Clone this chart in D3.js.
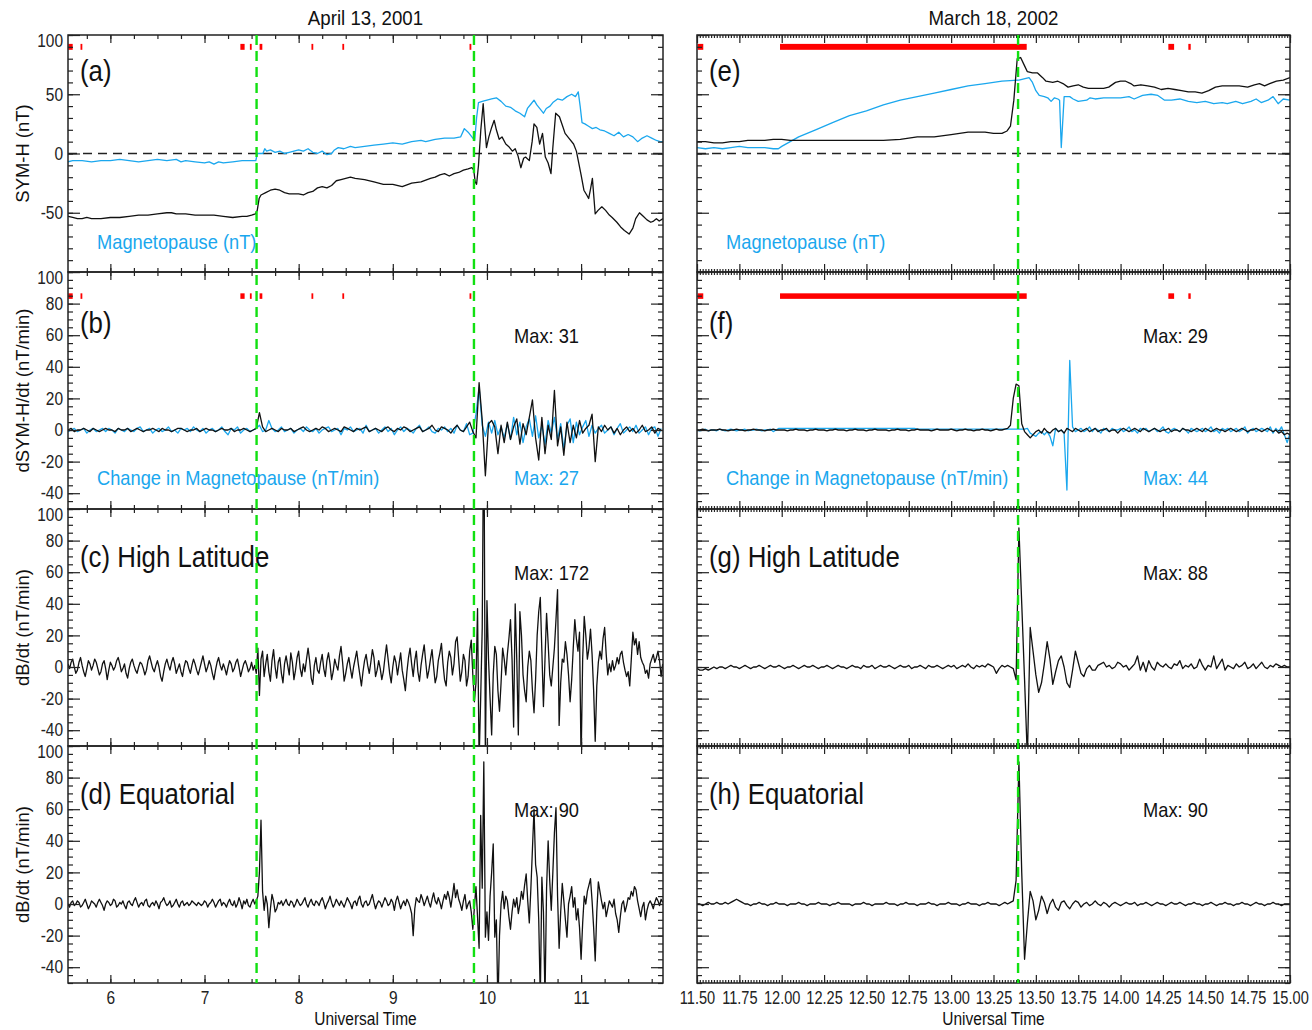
<!DOCTYPE html>
<html lang="en">
<head>
<meta charset="utf-8">
<title>SYM-H and dB/dt, April 13 2001 / March 18 2002</title>
<script src="https://d3js.org/d3.v7.min.js"></script>
<style>
  body { margin: 0; background: #fff; }
</style>
</head>
<body>
<script>

// ---- data -----------------------------------------------------------

// panel titles / labels
var dates = ["April 13, 2001", "March 18, 2002"];
var rowLabels = ["SYM-H (nT)", "dSYM-H/dt (nT/min)", "dB/dt (nT/min)", "dB/dt (nT/min)"];
var panelNames = [["(a)", "(b)", "(c) High Latitude", "(d) Equatorial"],
                  ["(e)", "(f)", "(g) High Latitude", "(h) Equatorial"]];
var maxBlack = [[null, "Max: 31", "Max: 172", "Max: 90"], [null, "Max: 29", "Max: 88", "Max: 90"]];
var maxBlue = [[null, "Max: 27", null, null], [null, "Max: 44", null, null]];
var blueNames = ["Magnetopause (nT)", "Change in Magnetopause (nT/min)"];

// event onsets (UT hours)
var onsetsLeft = [7.553, 9.862];
var onsetsRight = [13.395];

// red flags at top of panels (UT intervals)
var flagsLeft = [[5.553, 5.60], [5.683, 5.693], [7.381, 7.426], [7.482, 7.492], [7.585, 7.614],
                 [8.136, 8.146], [8.464, 8.474], [9.815, 9.825]];
var flagsRight = [[11.504, 11.537], [11.99, 13.446], [14.282, 14.316], [14.40, 14.414]];

// (a) SYM-H and magnetopause, [UT, nT]
var symhLeft = [[5.55,-53],[5.6,-54],[5.65,-55],[5.7,-55],[5.75,-54],[5.8,-55],[5.9,-55],[6.0,-54],[6.1,-54],[6.2,-53],
  [6.3,-52],[6.4,-52],[6.5,-51],[6.6,-50],[6.65,-50],[6.7,-51],[6.8,-51],[6.9,-52],[7.0,-52],[7.1,-52],[7.2,-53],
  [7.3,-54],[7.4,-53],[7.45,-53],[7.5,-52],[7.54,-51],[7.56,-48],[7.58,-38],[7.6,-35],[7.65,-33],[7.7,-31],[7.75,-30],
  [7.8,-31],[7.85,-33],[7.9,-34],[7.95,-34],[8.0,-34],[8.05,-35],[8.1,-33],[8.15,-32],[8.2,-29],[8.25,-28],[8.3,-29],
  [8.35,-27],[8.4,-23],[8.45,-22],[8.5,-21],[8.55,-20],[8.6,-21],[8.7,-22],[8.8,-24],[8.9,-26],[9.0,-26],[9.1,-28],
  [9.2,-25],[9.3,-24],[9.4,-21],[9.45,-20],[9.5,-18],[9.55,-17],[9.6,-19],[9.65,-17],[9.7,-16],[9.75,-14],[9.8,-13],
  [9.84,-12],[9.86,-14],[9.875,-24],[9.89,-26],[9.91,-10],[9.935,20],[9.96,42],[9.975,25],[9.995,5],[10.02,14],
  [10.05,22],[10.077,28],[10.1,20],[10.13,12],[10.16,14],[10.2,8],[10.23,6],[10.27,2],[10.3,4],[10.33,-2],[10.36,-12],
  [10.39,-4],[10.41,-3],[10.45,-6],[10.48,10],[10.5,25],[10.53,22],[10.56,8],[10.59,17],[10.62,-3],[10.65,-8],
  [10.68,-17],[10.7,5],[10.73,34],[10.77,31],[10.8,24],[10.83,17],[10.87,13],[10.92,8],[10.95,2],[10.97,-6],[11.0,-18],
  [11.03,-31],[11.06,-35],[11.08,-38],[11.1,-30],[11.12,-21],[11.15,-51],[11.18,-48],[11.22,-45],[11.26,-48],[11.3,-52],
  [11.33,-54],[11.38,-58],[11.42,-62],[11.46,-65],[11.51,-68],[11.55,-63],[11.58,-55],[11.62,-50],[11.66,-53],[11.7,-56],
  [11.74,-58],[11.77,-57],[11.8,-55],[11.83,-57],[11.87,-55]];

var mpLeft = [[5.55,-7],[5.6,-6],[5.7,-6],[5.8,-7],[5.9,-6],[6.0,-6],[6.1,-5],[6.2,-6],[6.3,-7],[6.4,-6],[6.5,-5],
  [6.6,-6],[6.7,-5],[6.75,-7],[6.8,-6],[6.9,-7],[7.0,-8],[7.05,-7],[7.1,-9],[7.15,-7],[7.2,-8],[7.3,-7],[7.4,-6],
  [7.5,-6],[7.545,-6],[7.56,0],[7.62,0],[7.64,4],[7.66,2],[7.7,3],[7.75,1],[7.8,2],[7.85,0],[7.9,1],[7.95,2],[8.0,3],
  [8.05,2],[8.1,4],[8.15,1],[8.2,0],[8.25,2],[8.3,-1],[8.35,0],[8.38,3],[8.42,5],[8.48,4],[8.55,6],[8.6,5],[8.7,6],
  [8.8,7],[8.9,8],[9.0,9],[9.1,8],[9.2,10],[9.3,11],[9.35,10],[9.45,12],[9.55,13],[9.65,13],[9.72,14],[9.76,21],
  [9.8,18],[9.85,13],[9.87,11],[9.89,30],[9.91,43],[9.95,44],[10.0,45],[10.05,46],[10.1,47],[10.15,44],[10.2,40],
  [10.25,39],[10.3,36],[10.35,34],[10.4,31],[10.43,38],[10.47,42],[10.5,45],[10.53,41],[10.56,38],[10.6,34],[10.63,38],
  [10.67,40],[10.7,43],[10.75,46],[10.8,45],[10.85,48],[10.9,50],[10.94,48],[10.97,52],[10.99,40],[11.01,26],[11.04,25],
  [11.08,23],[11.12,21],[11.16,22],[11.2,20],[11.25,19],[11.3,17],[11.35,15],[11.4,18],[11.45,14],[11.5,16],[11.55,14],
  [11.6,10],[11.65,13],[11.7,15],[11.75,13],[11.8,11],[11.84,10],[11.87,10]];

// (b) dSYM-H/dt and change in magnetopause, every 2 min from 05:33 UT
var dsymLeft = [
  0,1,-1,0,0,1,0,-1,1,0,  -1,0,1,0,0,-1,1,0,0,1,  -1,0,1,0,-1,0,0,1,0,-1,  1,0,0,-1,0,1,1,0,-1,0,
  0,1,-1,0,1,0,0,-1,0,1,  0,0,1,-1,0,0,1,0,-1,0,  1,11,2,-1,0,1,0,-1,1,0,  0,1,-1,0,1,2,0,-1,0,1,
  0,2,1,-1,0,1,0,-1,2,1,  0,-1,1,0,1,2,-1,0,1,0,  -1,1,2,0,-1,1,0,2,1,-1,  0,1,2,-1,0,1,3,0,-1,2,
  1,0,-2,1,3,0,-1,2,5,-1,  -5,30,6,-29,4,6,2,-15,3,-8,  5,-6,2,7,-9,4,-3,8,19,-5,  -19,8,-15,3,-6,25,-10,2,-16,5,
  -8,3,-5,6,-2,1,3,10,-20,2,  -1,3,0,2,-2,1,-3,0,2,-1,  1,-2,0,3,-1,0,2,-2,1,0];
var dmpLeft = [
  -1,0,1,-1,0,1,-2,0,1,-1,  0,1,-1,1,0,-2,1,0,-1,1,  0,-1,1,2,-1,0,1,-2,0,1,  -1,0,2,-1,0,-2,1,0,1,-1,
  2,0,-1,1,-2,0,1,-1,0,2,  -1,-3,1,0,2,-2,0,1,-1,0,  1,3,-1,0,6,1,-1,0,2,-1,  0,1,-2,0,1,-1,2,0,-1,1,
  -2,0,1,2,-1,0,1,-3,1,0,  2,-1,0,1,-2,3,-1,0,1,-2,  0,2,-1,1,-3,0,2,-1,1,0,  -2,1,3,-1,0,2,-1,-2,1,0,
  2,-1,1,-2,3,0,-1,4,-3,-2,  10,27,3,-4,5,-2,6,-3,2,-5,  4,-6,8,-3,5,-8,2,7,-4,9,  -5,3,-9,6,-2,8,-6,4,-12,3,
  7,-8,5,-3,2,6,-4,3,-2,1,  3,-2,0,2,-3,1,4,-2,0,2,  -1,3,-2,0,2,-3,1,2,-4,1];

// (c) high latitude dB/dt, every 1 min from 05:33 UT
var dbHighLeft = [
  2,-1,3,5,0,-4,-2,3,6,1,  -3,-6,-1,4,2,-2,1,5,3,-1,  -5,-3,2,4,-1,-8,-2,3,1,-2,  0,4,6,2,-3,-1,2,-4,-7,-1,
  3,5,1,-2,-4,0,3,2,-1,-5,  -2,4,7,3,-1,-3,1,4,0,-6,  -9,-3,2,5,1,-2,3,6,2,-4,  -1,2,-3,-6,0,4,3,-1,-4,1,
  5,2,-2,-5,-1,3,7,2,-3,0,  4,1,-4,-8,-2,3,6,1,-2,2,  -1,-5,0,4,2,-3,-1,3,5,0,  -6,-2,2,4,1,-3,-1,3,-2,1,
  -4,12,-18,5,10,-6,2,8,-3,-9,  4,11,0,-7,3,6,-4,-10,2,7,  1,-5,9,3,-8,-2,6,10,-1,-6,  2,-3,5,12,4,-7,-11,1,6,-2,
  -4,3,8,-1,-6,4,9,2,-8,-3,  5,1,-2,7,13,3,-9,-4,2,6,  -1,-7,0,5,10,2,-5,-12,-3,4,  8,1,-4,3,11,6,-6,-2,4,-1,
  -8,-3,6,14,5,-4,-10,0,7,3,  -5,2,9,-2,-8,-15,-3,6,12,2,  -6,4,10,-3,-9,1,8,14,3,-7,  -2,5,11,0,-10,-6,4,9,15,2,
  -8,-12,3,10,6,-5,2,16,19,5,  -9,-3,8,4,-12,-6,10,17,-5,-22,  -10,37,-60,-20,25,172,-60,42,5,-20,
  -43,-5,13,8,-15,-28,-10,12,5,-5,  8,18,30,5,-38,40,5,-43,35,20,  -5,-15,-22,0,10,4,-15,-29,-8,20,
  35,44,10,-25,5,34,15,-5,-12,0,  12,30,49,-37,-10,5,3,16,8,-5,  -22,-8,12,30,18,10,22,-60,5,32,
  20,5,12,24,8,-15,-47,-12,3,10,  5,18,25,8,-5,2,-3,4,-2,1,  6,2,8,10,3,-2,-6,-3,-12,5,
  22,14,18,8,16,6,3,1,-4,-2,  -7,2,5,8,3,6,10,4,-6,2];

// (d) equatorial dB/dt, every 1 min from 05:33 UT
var dbEqLeft = [
  0,-2,1,2,-1,0,2,1,-2,-1,  1,3,0,-3,-1,2,1,0,-2,1,  3,1,-1,-4,0,2,1,-1,0,3,  2,-2,-1,1,0,2,-1,-3,1,2,
  0,-1,2,4,1,-2,0,1,-1,2,  3,-1,-2,0,1,-1,2,0,-3,1,  2,4,1,-1,0,2,-2,-1,1,3,  0,-2,1,2,-1,0,1,-1,0,2,
  1,0,-1,1,0,-1,0,2,1,-2,  0,1,3,1,-2,0,2,3,-1,1,  0,-2,1,3,0,-1,2,-2,0,4,  1,-3,2,0,3,-1,-2,1,3,0,
  2,5,20,53,8,-4,5,0,-15,-3,  6,2,-5,-3,1,0,2,-1,1,3,  0,-1,2,1,-2,0,3,1,-1,0,  2,4,0,-2,1,3,0,-1,2,1,
  -1,2,4,1,-3,0,2,5,1,-2,  0,3,1,-1,2,0,-2,1,4,2,  0,-3,1,2,-1,3,5,0,-2,1,  2,-1,0,3,6,1,-3,0,2,1,
  -2,1,4,2,-1,0,3,1,-4,2,  5,1,-3,0,2,-1,3,1,-2,-6,  -20,-3,4,2,1,6,3,-1,2,5,  1,-2,3,7,2,0,4,1,-3,2,
  6,3,8,4,-2,5,13,4,9,3,  0,-4,2,6,-3,0,2,-5,-16,-2,  11,-8,-28,56,10,90,-21,-5,-23,5,
  20,38,-21,-10,-65,-20,0,8,-3,5,  2,-8,-16,-5,3,-2,4,-6,0,8,  3,12,19,2,-12,10,35,60,25,17,
  -10,-60,17,-5,-60,10,40,15,-4,20,  45,61,5,-28,-5,13,2,-10,-21,0,  5,11,-2,4,-10,-3,-15,-35,-12,5,
  0,8,12,16,2,-15,-36,-5,14,8,  2,-3,1,-8,-3,2,0,-2,3,-6,  -10,-18,-8,0,2,-5,-1,4,3,8,
  5,11,9,2,-3,-8,-2,1,-10,-4,  0,2,0,-3,1,4,2,-1,3,1];

// (e) SYM-H and magnetopause, [UT, nT]
var symhRight = [[11.5,10],[11.55,10],[11.6,9],[11.65,9],[11.7,10],[11.75,10],[11.8,11],[11.85,11],[11.9,11],
  [11.95,12],[12.0,12],[12.05,11],[12.1,11],[12.2,11],[12.3,11],[12.4,11],[12.5,11],[12.6,11],[12.7,12],[12.75,13],
  [12.8,14],[12.9,14],[13.0,16],[13.05,17],[13.1,18],[13.2,18],[13.25,17],[13.3,17],[13.33,19],[13.35,23],[13.37,45],
  [13.39,80],[13.41,81],[13.43,75],[13.45,69],[13.48,68],[13.51,68],[13.54,64],[13.56,61],[13.6,60],[13.63,61],
  [13.66,59],[13.69,56],[13.72,57],[13.75,58],[13.78,56],[13.81,55],[13.85,55],[13.9,55],[13.93,56],[13.97,60],
  [14.0,61],[14.03,61],[14.06,59],[14.08,57],[14.12,58],[14.16,57],[14.2,56],[14.24,54],[14.28,55],[14.32,54],
  [14.36,53],[14.4,52],[14.44,52],[14.48,51],[14.52,53],[14.56,56],[14.6,57],[14.65,57],[14.7,57],[14.75,56],
  [14.79,58],[14.82,59],[14.85,57],[14.88,59],[14.92,61],[14.96,62],[15.0,64]];

var mpRight = [[11.5,5],[11.55,4],[11.6,5],[11.65,4],[11.7,5],[11.75,6],[11.8,5],[11.85,5],[11.9,5],[11.95,4],
  [11.98,4],[12.0,6],[12.05,10],[12.1,14],[12.2,20],[12.3,26],[12.4,32],[12.5,36],[12.6,41],[12.7,45],[12.8,48],
  [12.9,51],[13.0,54],[13.1,57],[13.2,59],[13.3,61],[13.4,62],[13.46,64],[13.48,60],[13.5,53],[13.52,49],[13.55,48],
  [13.57,47],[13.59,44],[13.61,47],[13.63,46],[13.64,45],[13.65,5],[13.667,48],[13.7,48],[13.72,46],[13.75,44],
  [13.8,45],[13.82,47],[13.85,46],[13.9,47],[13.95,47],[14.0,47],[14.05,48],[14.08,46],[14.13,49],[14.18,50],
  [14.22,49],[14.26,45],[14.3,45],[14.35,46],[14.4,44],[14.45,43],[14.5,44],[14.55,42],[14.6,43],[14.63,42],
  [14.68,44],[14.72,42],[14.77,44],[14.8,46],[14.83,43],[14.87,45],[14.9,48],[14.93,42],[14.96,46],[15.0,45]];

// (f) dSYM-H/dt and change in magnetopause, every 1 min from 11:30 UT
var dsymRight = [
  0,0,0.5,0,-0.5,0,0,0,0.5,0,  0,-0.5,0,0,0.5,0,0,-0.5,0,0,  0.5,0,0,0,-0.5,0,0,0.5,0,0,  0,0,-0.5,0,0,0.5,0,0,0,-0.5,
  0,0,0.5,0,0,0,-0.5,0,0,0.5,  0,0,0,-0.5,0,0,0.5,0,0,0,  -0.5,0,0,0.5,0,0,0,0,-0.5,0,  0,0.5,0,0,0,-0.5,0,0,0.5,0,
  0,0,0,-0.5,0,0.5,0,0,0,0,  0.5,0,-0.5,0,0,0.5,0,0,-0.5,0,  0,0.5,0,0,-0.5,0,0.5,0,0,0.5,  1,3,20,29,28,4,-1,-3,-5,-3,
  -1,0,-2,1,-1,-2,0,1,-1,0,  -2,1,0,-1,1,0,-1,0,1,-1,  0,1,-1,0,0,1,-1,0,0,-2,  0,1,0,-1,0,1,0,-1,1,0,
  -1,0,1,0,-1,0,0,1,-1,0,  0,-1,1,0,0,-1,0,1,0,-1,  1,0,-1,0,1,0,0,-1,0,1,  0,-1,0,1,0,-1,0,0,1,0,
  -1,0,1,0,-1,0,-2,-1,-3,-2,  -3];
var dmpRight = [
  0,-0.5,0,0.5,-0.5,0,0,-0.5,0.5,0,  -0.5,0,0.5,0,-0.5,0,0,0.5,-0.5,0,  0,0.5,0,-0.5,0,0,0.5,-1,0,1,  1,1,1,1,1,1,1,1,1,1,
  1,1,1,1,1,1,1,1,1,1,  1,1,1,1,1,1,1,1,1,1,  1,1,1,1,1,1,1,1,1,1,  1,1,1,1,1,1,1,1,0.5,0.5,
  0.5,0.5,0.5,0.5,0.5,0.5,0.5,0.5,0.5,0.5,  0.5,0.5,0.5,0.5,0.5,0.5,0.5,0.5,0.5,0.5,  0.5,0.5,0.5,0.5,0.5,0.5,0.5,0.5,0.5,0.5,
  0.5,0.5,0.5,0.5,0.5,0.5,0.5,1,-2,-3,  -4,-2,-1,-3,-1,-4,-10,1,-1,0,  -2,-38,44,2,-1,0,1,-1,0,2,
  -1,1,0,-2,1,0,-1,1,0,0,  1,-1,0,2,-1,0,-2,1,0,1,  -1,0,1,-1,0,2,-1,-2,0,1,  0,-1,1,0,-2,1,0,-1,0,1,
  -1,0,2,-1,0,-2,1,0,1,-1,  0,1,-1,0,2,-2,0,1,-1,0,  1,0,-1,2,-2,1,-1,2,-3,-8,  -2];

// (g) high latitude dB/dt, every 1 min from 11:30 UT
var dbHighRight = [
  -1,-2,-2,-1,-2,-1,0,-1,0,0,  -1,0,1,0,0,-1,0,1,0,-1,  0,0,1,0,-1,0,1,0,0,1,  0,-1,0,0,1,0,-1,0,1,0,
  0,1,0,-1,0,0,1,0,-1,0,  1,0,0,-1,0,1,0,0,-1,1,  0,0,1,-1,0,1,0,0,1,0,  -1,0,1,0,0,1,-1,0,0,1,
  0,-1,1,0,0,1,0,-1,0,1,  0,1,-1,0,1,0,2,0,-1,1,  0,1,0,2,1,0,-4,-1,1,0,  1,0,-1,-8,88,40,-8,-58,25,10,
  -5,-16,-10,2,16,5,-11,-3,4,7,  0,-10,-13,-2,10,3,-4,-6,-1,1,  -2,-2,1,2,3,0,1,-1,0,3,
  2,0,1,-2,0,2,7,-2,3,-3,  4,0,-2,3,1,0,2,0,-1,2,  1,4,-1,1,0,2,-1,0,5,1,  -2,1,0,7,-1,2,5,-2,1,0,
  -1,2,0,1,3,-1,0,2,-1,1,  3,0,-1,1,0,2,1,0,1,0,  0];

// (h) equatorial dB/dt, every 1 min from 11:30 UT
var dbEqRight = [
  0,0,-1,0,1,0,0,1,0,0,  1,0,1,2,3,2,1,0,0,-1,  0,0,1,0,0,-1,0,0,1,0,  0,0,-1,0,0,0,1,0,0,-1,
  0,0,0,1,0,0,0,-1,0,0,  1,0,0,0,0,-1,0,0,0,1,  0,0,-1,0,0,0,0,1,0,0,  0,-1,0,0,1,0,0,0,-1,0,
  0,0,1,0,0,-1,0,0,0,1,  0,0,0,-1,0,0,1,0,0,0,  -1,0,0,1,0,0,0,-1,0,1,  0,1,2,15,90,20,-35,-12,8,2,
  -10,-4,5,1,-6,0,3,-2,-4,1,  2,-1,-3,0,2,1,-2,0,1,-1,  0,2,0,-1,1,0,-2,0,1,0,  -1,0,1,0,0,1,-1,0,0,1,
  0,-1,0,1,0,0,-1,0,1,0,  0,1,0,-1,0,0,1,0,0,-1,  0,0,1,0,-1,0,0,1,0,0,  -1,0,0,1,0,0,-1,0,1,0,
  0,-1,0,0,1,0,0,-1,0,0,  0];

// sampling of the evenly spaced series
var leftStart = 5.55, rightStart = 11.5;
var oneMin = 1 / 60, twoMin = 1 / 30;

// ---- drawing --------------------------------------------------------

var FONT = '"Liberation Sans", Arial, sans-serif';
var BLUE = "#1aa7ee", BLACK = "#111", GREEN = "#11e011", RED = "#ff0000";

var w = 1312, h = 1030;
var svg = d3.select("body").append("svg")
    .attr("width", w).attr("height", h)
    .attr("font-family", FONT);

function grid(vals, start, step) {
  return vals.map(function(v, i) { return [start + i * step, v]; });
}

// the original lettering is a condensed face: squeeze the glyphs horizontally
function narrow(sel, k) {
  sel.each(function() {
    var n = this.getComputedTextLength();
    if (n > 0) d3.select(this).attr("textLength", n * k).attr("lengthAdjust", "spacingAndGlyphs");
  });
}

var top0 = 35, panelH = 237;
var rows = [
  {domain: [-100, 100], major: d3.range(-100, 101, 50), minor: d3.range(-100, 101, 10)},
  {domain: [-50, 100], major: d3.range(-40, 101, 20), minor: d3.range(-50, 101, 5)},
  {domain: [-50, 100], major: d3.range(-40, 101, 20), minor: d3.range(-50, 101, 5)},
  {domain: [-50, 100], major: d3.range(-40, 101, 20), minor: d3.range(-50, 101, 5)}
];

var cols = [
  {x0: 68, x1: 663, domain: [5.55, 11.87], squeeze: 0.86,
   major: d3.range(6, 12), minor: d3.range(5.75, 11.87, 0.25), fmt: d3.format("d"),
   onsets: onsetsLeft, flags: flagsLeft,
   series: [
     [{d: mpLeft, c: BLUE}, {d: symhLeft, c: BLACK}],
     [{d: grid(dmpLeft, leftStart, twoMin), c: BLUE}, {d: grid(dsymLeft, leftStart, twoMin), c: BLACK}],
     [{d: grid(dbHighLeft, leftStart, oneMin), c: BLACK}],
     [{d: grid(dbEqLeft, leftStart, oneMin), c: BLACK}]
   ]},
  {x0: 697, x1: 1290, domain: [11.5, 15], squeeze: 0.81,
   major: d3.range(0, 15).map(function(i) { return 11.5 + i * 0.25; }),
   minor: d3.range(0, 211).map(function(i) { return 11.5 + i / 60; }),
   fmt: d3.format(".2f"),
   onsets: onsetsRight, flags: flagsRight,
   series: [
     [{d: mpRight, c: BLUE}, {d: symhRight, c: BLACK}],
     [{d: grid(dmpRight, rightStart, oneMin), c: BLUE}, {d: grid(dsymRight, rightStart, oneMin), c: BLACK}],
     [{d: grid(dbHighRight, rightStart, oneMin), c: BLACK}],
     [{d: grid(dbEqRight, rightStart, oneMin), c: BLACK}]
   ]}
];

function ticks(g, axis, vals, size, fmt, k) {
  g.call(axis.tickValues(vals).tickSize(size).tickSizeOuter(0).tickFormat(fmt || ""));
  g.select(".domain").remove();
  g.attr("color", "#222").attr("font-family", FONT).attr("font-size", 18);
  g.selectAll(".tick line").attr("stroke-width", 1.2);
  if (fmt) narrow(g.selectAll(".tick text"), k || 0.86);
}

cols.forEach(function(col, ci) {
  var x = d3.scaleLinear().domain(col.domain).range([col.x0, col.x1]);
  var bottom = top0 + panelH * rows.length;

  rows.forEach(function(row, ri) {
    var top = top0 + ri * panelH;
    var y = d3.scaleLinear().domain(row.domain).range([top + panelH, top]);
    var g = svg.append("g");
    var clipId = "clip" + ci + ri;
    svg.append("clipPath").attr("id", clipId).append("rect")
        .attr("x", col.x0).attr("y", top).attr("width", col.x1 - col.x0).attr("height", panelH);

    var plot = g.append("g").attr("clip-path", "url(#" + clipId + ")");

    // zero line in the SYM-H panels
    if (ri === 0) {
      plot.append("line")
          .attr("x1", col.x0).attr("x2", col.x1)
          .attr("y1", y(0)).attr("y2", y(0))
          .attr("stroke", "#222").attr("stroke-width", 1.4)
          .attr("stroke-dasharray", "9,6");
    }

    // red flags in the top two rows
    if (ri < 2) {
      var band = ri === 0 ? [87.5, 92.5] : [83, 86.5];
      plot.selectAll("rect.flag").data(col.flags).enter().append("rect")
          .attr("class", "flag")
          .attr("x", function(d) { return x(d[0]); })
          .attr("width", function(d) { return Math.max(1.8, x(d[1]) - x(d[0])); })
          .attr("y", y(band[1]))
          .attr("height", y(band[0]) - y(band[1]))
          .attr("fill", RED);
    }

    var line = d3.line().x(function(d) { return x(d[0]); }).y(function(d) { return y(d[1]); });
    col.series[ri].forEach(function(s) {
      plot.append("path").datum(s.d)
          .attr("d", line)
          .attr("fill", "none")
          .attr("stroke", s.c)
          .attr("stroke-width", 1.3)
          .attr("stroke-linejoin", "round");
    });

    // frame
    g.append("rect")
        .attr("x", col.x0).attr("y", top)
        .attr("width", col.x1 - col.x0).attr("height", panelH)
        .attr("fill", "none").attr("stroke", "#222").attr("stroke-width", 1.5);

    // axes: inward ticks on four sides
    var gl = g.append("g").attr("transform", "translate(" + col.x0 + ",0)");
    if (ci === 0) {
      ticks(gl, d3.axisLeft(y).tickPadding(5), row.major, -12,
            function(d) { return d === -100 ? "" : d; });
      gl.selectAll(".tick text").filter(function(d) { return d === 100; }).attr("y", 6);
    } else {
      ticks(gl, d3.axisLeft(y), row.major, -12);
    }
    ticks(g.append("g").attr("transform", "translate(" + col.x0 + ",0)"), d3.axisLeft(y), row.minor, -5);
    ticks(g.append("g").attr("transform", "translate(" + col.x1 + ",0)"), d3.axisRight(y), row.major, -12);
    ticks(g.append("g").attr("transform", "translate(" + col.x1 + ",0)"), d3.axisRight(y), row.minor, -5);

    var minorLen = ci === 0 ? -4 : -3;
    ticks(g.append("g").attr("transform", "translate(0," + top + ")"), d3.axisTop(x), col.major, -8);
    ticks(g.append("g").attr("transform", "translate(0," + top + ")"), d3.axisTop(x), col.minor, minorLen);
    var gb = g.append("g").attr("transform", "translate(0," + (top + panelH) + ")");
    if (ri === rows.length - 1) {
      ticks(gb, d3.axisBottom(x).tickPadding(8), col.major, -8, col.fmt, col.squeeze);
    } else {
      ticks(gb, d3.axisBottom(x), col.major, -8);
    }
    ticks(g.append("g").attr("transform", "translate(0," + (top + panelH) + ")"), d3.axisBottom(x), col.minor, minorLen);

    // panel texts
    narrow(g.append("text")
        .attr("x", col.x0 + 12).attr("y", y(ri === 1 ? 68 : 70))
        .attr("dy", "0.35em").attr("font-size", 30).attr("fill", BLACK)
        .text(panelNames[ci][ri]), 0.86);
    if (maxBlack[ci][ri]) {
      narrow(g.append("text")
          .attr("x", col.x0 + 446).attr("y", y(60)).attr("dy", "0.35em")
          .attr("font-size", 21).attr("fill", BLACK)
          .text(maxBlack[ci][ri]), 0.87);
    }
    if (maxBlue[ci][ri]) {
      narrow(g.append("text")
          .attr("x", col.x0 + 446).attr("y", y(-30)).attr("dy", "0.35em")
          .attr("font-size", 21).attr("fill", BLUE)
          .text(maxBlue[ci][ri]), 0.87);
    }
    if (ri < 2) {
      narrow(g.append("text")
          .attr("x", col.x0 + 29).attr("y", y(ri === 0 ? -74 : -30)).attr("dy", "0.35em")
          .attr("font-size", 21).attr("fill", BLUE)
          .text(blueNames[ri]), 0.87);
    }

    if (ci === 0) {
      narrow(svg.append("text")
          .attr("transform", "translate(22," + (top + panelH / 2) + ") rotate(-90)")
          .attr("text-anchor", "middle").attr("dy", "0.35em")
          .attr("font-size", 19).attr("fill", BLACK)
          .text(rowLabels[ri]), 0.97);
    }
  });

  // onset markers across all panels
  svg.selectAll(null).data(col.onsets).enter().append("line")
      .attr("x1", function(d) { return x(d); }).attr("x2", function(d) { return x(d); })
      .attr("y1", top0).attr("y2", bottom)
      .attr("stroke", GREEN).attr("stroke-width", 2.4)
      .attr("stroke-dasharray", "10,6");

  var mid = (col.x0 + col.x1) / 2;
  narrow(svg.append("text")
      .attr("x", mid).attr("y", 18).attr("dy", "0.35em")
      .attr("text-anchor", "middle").attr("font-size", 21).attr("fill", BLACK)
      .text(dates[ci]), 0.89);
  narrow(svg.append("text")
      .attr("x", mid).attr("y", bottom + 36).attr("dy", "0.35em")
      .attr("text-anchor", "middle").attr("font-size", 18).attr("fill", BLACK)
      .text("Universal Time"), 0.86);
});

</script>
</body>
</html>
